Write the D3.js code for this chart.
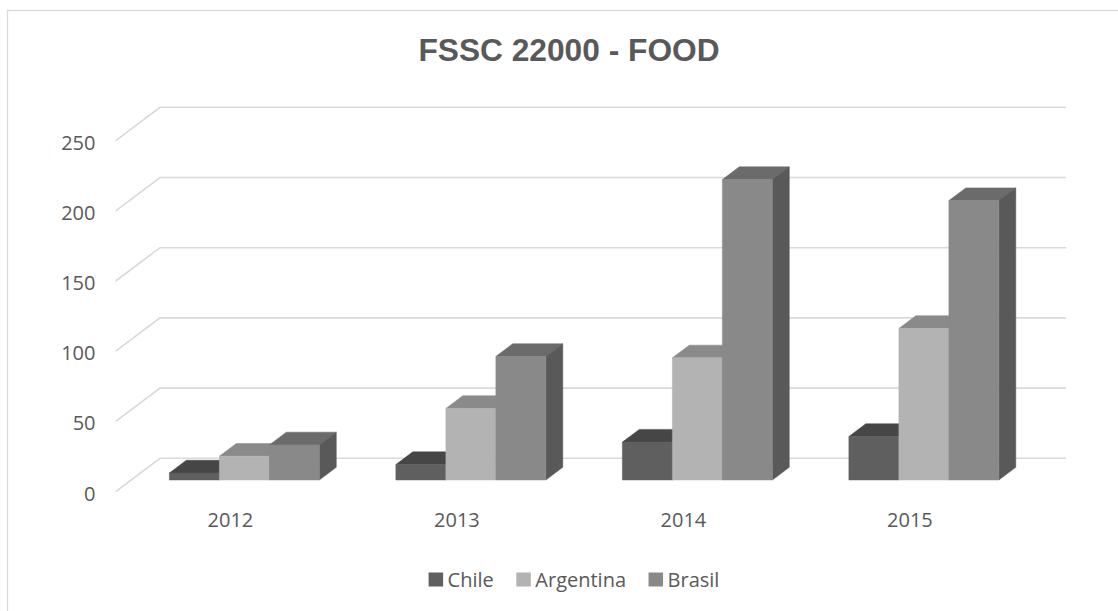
<!DOCTYPE html>
<html><head><meta charset="utf-8">
<script src="https://cdn.jsdelivr.net/npm/d3@7"></script>
<style>body{margin:0;background:#fff;}svg{display:block;}</style>
</head><body>
<script>
const categories = ["2012", "2013", "2014", "2015"];
const seriesNames = ["Chile", "Argentina", "Brasil"];
const chile = [5, 11, 27, 31];
const argentina = [17, 51, 87, 108];
const brasil = [25, 88, 214, 199];
const yTicks = [0, 50, 100, 150, 200, 250];
const titleText = "FSSC 22000 - FOOD";

const seriesValues = [chile, argentina, brasil];
const frontColors = ["#5f5f5f", "#b3b3b3", "#898989"];
const topColors = ["#464646", "#8a8a8a", "#6b6b6b"];
const sideColors = ["#3e3e3e", "#8f8f8f", "#595959"];

const W = 1118, H = 611;
const svg = d3.select("body").append("svg").attr("width", W).attr("height", H);

// chart border
svg.append("rect").attr("x", 7.5).attr("y", 10.5).attr("width", 1200).attr("height", 700)
  .attr("fill", "#fff").attr("stroke", "#d9d9d9").attr("stroke-width", 1.3);

// title
svg.append("text").attr("x", 569).attr("y", 61).attr("text-anchor", "middle")
  .attr("font-family", "'Liberation Sans', Arial, sans-serif").attr("font-weight", "bold")
  .attr("font-size", 31.7).attr("fill", "#595959").text(titleText);

// 3D geometry
const backY0 = 458.3;          // y of value 0 on back wall
const depthDX = 44.3, depthDY = 33.3; // full floor depth projection
const wallX0 = 160, wallX1 = 1066;
const y = d3.scaleLinear().domain([0, 250]).range([0, 351]);
const x = d3.scaleBand().domain(categories).range([wallX0, wallX1]).padding(0);
const groupW = 150;
const xs = d3.scaleBand().domain(seriesNames).range([0, groupW]).padding(0);
const dFront = 0.652, dBack = 0.27;

function proj(X, d, v) {
  return [X - d * depthDX, backY0 + d * depthDY - y(v)];
}

// gridlines
const grid = svg.append("g").attr("stroke", "#d9d9d9").attr("stroke-width", 1.6).attr("fill", "none");
yTicks.forEach(t => {
  const b0 = proj(wallX0, 0, t), b1 = proj(wallX1, 0, t), f = proj(wallX0, 1, t);
  grid.append("path").attr("d", `M${f[0]},${f[1]}L${b0[0]},${b0[1]}L${b1[0]},${b1[1]}`);
});

// y labels
const lab = svg.append("g").attr("font-family", "'Open Sans', sans-serif").attr("font-size", 20).attr("fill", "#595959");
yTicks.forEach(t => {
  const f = proj(wallX0, 1, t);
  lab.append("text").attr("x", 95.5).attr("y", f[1] + 1.5).attr("text-anchor", "end")
    .attr("dominant-baseline", "central").text(t);
});

// x labels
categories.forEach(c => {
  const f = proj(x(c) + x.bandwidth() / 2, 1, 0);
  lab.append("text").attr("x", f[0] + 1.5).attr("y", 527).attr("text-anchor", "middle").text(c);
});

// bars
const bars = svg.append("g");
const pts = a => a.map(p => p.join(",")).join(" ");
categories.forEach((c, ci) => {
  seriesNames.forEach((s, si) => {
    const v = seriesValues[si][ci];
    const X0 = x(c) + (x.bandwidth() - groupW) / 2 + xs(s);
    const X1 = X0 + xs.bandwidth();
    const fl0 = proj(X0, dFront, 0), fr0 = proj(X1, dFront, 0);
    const flt = proj(X0, dFront, v), frt = proj(X1, dFront, v);
    const blt = proj(X0, dBack, v), brt = proj(X1, dBack, v), br0 = proj(X1, dBack, 0);
    bars.append("polygon").attr("points", pts([flt, frt, brt, blt])).attr("fill", topColors[si])
      .attr("stroke", topColors[si]).attr("stroke-width", 0.5);
    bars.append("polygon").attr("points", pts([frt, brt, br0, fr0])).attr("fill", sideColors[si])
      .attr("stroke", sideColors[si]).attr("stroke-width", 0.5);
    bars.append("polygon").attr("points", pts([flt, frt, fr0, fl0])).attr("fill", frontColors[si])
      .attr("stroke", frontColors[si]).attr("stroke-width", 0.5);
  });
});

// legend
const leg = svg.append("g").attr("font-family", "'Open Sans', sans-serif").attr("font-size", 20).attr("fill", "#595959");
let cx = 0;
const items = [];
seriesNames.forEach((s, i) => {
  const g = leg.append("g");
  g.append("rect").attr("x", 0).attr("y", -7).attr("width", 14.5).attr("height", 14).attr("fill", frontColors[i]);
  const t = g.append("text").attr("x", 19).attr("y", 0).attr("dominant-baseline", "central").text(s);
  const w = 19 + t.node().getComputedTextLength();
  items.push({g, x: cx});
  cx += w + 22.5;
});
const totalW = cx - 22.5;
const startX = 574 - totalW / 2;
items.forEach(it => it.g.attr("transform", `translate(${startX + it.x},579.5)`));
</script>
</body></html>
